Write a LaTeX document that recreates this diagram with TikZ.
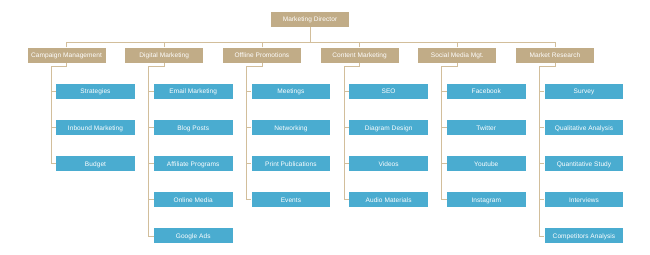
\documentclass[tikz,border=0pt]{standalone}
\usepackage{fontspec}
\setmainfont{Liberation Sans}[LetterSpace=1]
\usepackage{tikz}
\usepackage{xcolor}
\definecolor{headtan}{RGB}{193,172,135}
\definecolor{itemblue}{RGB}{74,172,208}
\definecolor{linktan}{RGB}{210,190,155}
\tikzset{
  head/.style={fill=headtan, text=white, minimum width=58.5pt, minimum height=11.2pt, inner sep=0pt, text height=3.6pt, text depth=0pt, font=\fontsize{4.9}{6}\selectfont},
  item/.style={fill=itemblue, text=white, minimum width=59pt, minimum height=11.2pt, inner sep=0pt, text height=3.6pt, text depth=0pt, font=\fontsize{4.9}{6}\selectfont},
  link/.style={draw=linktan, line width=0.6pt}
}

\begin{document}
\begin{tikzpicture}[x=0.75pt,y=-0.75pt]
\useasboundingbox[fill=white] (0,0) rectangle (650,254);
% root and departments
\node[head] (dir) at (310,19.2) {Marketing Director};
\node[head] (camp) at (66.5,55.2) {Campaign Management};
\node[head] (dig) at (164.2,55.2) {Digital Marketing};
\node[head] (off) at (261.9,55.2) {Offline Promotions};
\node[head] (cont) at (359.6,55.2) {Content Marketing};
\node[head] (soc) at (457.3,55.2) {Social Media Mgt.};
\node[head] (mkt) at (555,55.2) {Market Research};
\coordinate (bus) at (0,42.3);
\draw[link] (dir.south) -- (dir.south |- bus);
\draw[link] (camp.north |- bus) -- (mkt.north |- bus);
\draw[link] (camp.north) -- (camp.north |- bus);
\draw[link] (dig.north) -- (dig.north |- bus);
\draw[link] (off.north) -- (off.north |- bus);
\draw[link] (cont.north) -- (cont.north |- bus);
\draw[link] (soc.north) -- (soc.north |- bus);
\draw[link] (mkt.north) -- (mkt.north |- bus);
% campaign management
\node[item] (camp1) at (95.5,91.5) {Strategies};
\node[item] (camp2) at (95.5,127.6) {Inbound Marketing};
\node[item] (camp3) at (95.5,163.7) {Budget};
\coordinate (campsp) at (51,66.7);
\draw[link] (camp.south) |- (campsp) -- (campsp |- camp3.west) -- (camp3.west);
\draw[link] (campsp |- camp1.west) -- (camp1.west);
\draw[link] (campsp |- camp2.west) -- (camp2.west);
% digital marketing
\node[item] (dig1) at (193.2,91.5) {Email Marketing};
\node[item] (dig2) at (193.2,127.6) {Blog Posts};
\node[item] (dig3) at (193.2,163.7) {Affiliate Programs};
\node[item] (dig4) at (193.2,199.8) {Online Media};
\node[item] (dig5) at (193.2,235.9) {Google Ads};
\coordinate (digsp) at (148.7,66.7);
\draw[link] (dig.south) |- (digsp) -- (digsp |- dig5.west) -- (dig5.west);
\draw[link] (digsp |- dig1.west) -- (dig1.west);
\draw[link] (digsp |- dig2.west) -- (dig2.west);
\draw[link] (digsp |- dig3.west) -- (dig3.west);
\draw[link] (digsp |- dig4.west) -- (dig4.west);
% offline promotions
\node[item] (off1) at (290.9,91.5) {Meetings};
\node[item] (off2) at (290.9,127.6) {Networking};
\node[item] (off3) at (290.9,163.7) {Print Publications};
\node[item] (off4) at (290.9,199.8) {Events};
\coordinate (offsp) at (246.4,66.7);
\draw[link] (off.south) |- (offsp) -- (offsp |- off4.west) -- (off4.west);
\draw[link] (offsp |- off1.west) -- (off1.west);
\draw[link] (offsp |- off2.west) -- (off2.west);
\draw[link] (offsp |- off3.west) -- (off3.west);
% content marketing
\node[item] (cont1) at (388.6,91.5) {SEO};
\node[item] (cont2) at (388.6,127.6) {Diagram Design};
\node[item] (cont3) at (388.6,163.7) {Videos};
\node[item] (cont4) at (388.6,199.8) {Audio Materials};
\coordinate (contsp) at (344.1,66.7);
\draw[link] (cont.south) |- (contsp) -- (contsp |- cont4.west) -- (cont4.west);
\draw[link] (contsp |- cont1.west) -- (cont1.west);
\draw[link] (contsp |- cont2.west) -- (cont2.west);
\draw[link] (contsp |- cont3.west) -- (cont3.west);
% social media
\node[item] (soc1) at (486.3,91.5) {Facebook};
\node[item] (soc2) at (486.3,127.6) {Twitter};
\node[item] (soc3) at (486.3,163.7) {Youtube};
\node[item] (soc4) at (486.3,199.8) {Instagram};
\coordinate (socsp) at (441.8,66.7);
\draw[link] (soc.south) |- (socsp) -- (socsp |- soc4.west) -- (soc4.west);
\draw[link] (socsp |- soc1.west) -- (soc1.west);
\draw[link] (socsp |- soc2.west) -- (soc2.west);
\draw[link] (socsp |- soc3.west) -- (soc3.west);
% market research
\node[item] (mkt1) at (584,91.5) {Survey};
\node[item] (mkt2) at (584,127.6) {Qualitative Analysis};
\node[item] (mkt3) at (584,163.7) {Quantitative Study};
\node[item] (mkt4) at (584,199.8) {Interviews};
\node[item] (mkt5) at (584,235.9) {Competitors Analysis};
\coordinate (mktsp) at (539.5,66.7);
\draw[link] (mkt.south) |- (mktsp) -- (mktsp |- mkt5.west) -- (mkt5.west);
\draw[link] (mktsp |- mkt1.west) -- (mkt1.west);
\draw[link] (mktsp |- mkt2.west) -- (mkt2.west);
\draw[link] (mktsp |- mkt3.west) -- (mkt3.west);
\draw[link] (mktsp |- mkt4.west) -- (mkt4.west);
\end{tikzpicture}
\end{document}
